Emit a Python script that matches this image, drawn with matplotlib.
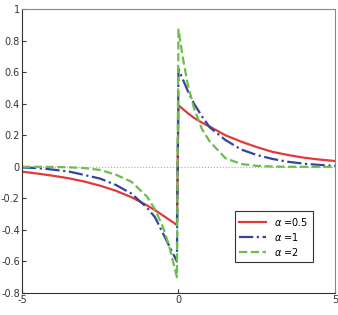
import numpy as np
import matplotlib.pyplot as plt

# ------------------------------------------------------------
# Values (left branch / right branch)
# ------------------------------------------------------------

x_left = [-5, -4.5, -4, -3.5, -3, -2.5, -2, -1.5, -1, -0.75, -0.5, -0.3, -0.15, -0.05]
x_right = [0, 0.15, 0.3, 0.5, 0.75, 1, 1.5, 2, 2.5, 3, 3.5, 4, 4.5, 5]

red_left = [-0.031, -0.043, -0.057, -0.073, -0.094, -0.12, -0.152, -0.193, -0.245,
            -0.275, -0.308, -0.335, -0.355, -0.37]
red_right = [0.39, 0.365, 0.34, 0.31, 0.28, 0.255, 0.2, 0.16, 0.125, 0.095, 0.075,
             0.058, 0.046, 0.037]

blue_left = [-0.004, -0.008, -0.018, -0.03, -0.052, -0.075, -0.115, -0.17, -0.26,
             -0.32, -0.42, -0.5, -0.56, -0.6]
blue_right = [0.62, 0.55, 0.48, 0.4, 0.32, 0.25, 0.17, 0.11, 0.075, 0.05, 0.032,
              0.02, 0.012, 0.006]

green_left = [0, 0, -0.001, -0.003, -0.008, -0.02, -0.05, -0.095, -0.19, -0.27,
              -0.38, -0.5, -0.62, -0.7]
green_right = [0.87, 0.68, 0.52, 0.37, 0.24, 0.16, 0.055, 0.018, 0.006, 0.002, 0,
               0, 0, 0]

labels = [r"$\alpha$ =0.5", r"$\alpha$ =1", r"$\alpha$ =2"]
ytick_labels = ["-0.8", "-0.6", "-0.4", "-0.2", "0", "0.2", "0.4", "0.6", "0.8", "1"]
xtick_labels = ["-5", "0", "5"]

# ------------------------------------------------------------
# Plot
# ------------------------------------------------------------

fig = plt.figure(figsize=(3.38, 3.15), dpi=100)
ax = fig.add_axes([0.065, 0.07, 0.926, 0.901])

x = x_left + x_right
ax.plot(x, red_left + red_right, color="#e03a3a", lw=1.6, ls="-", label=labels[0])
ax.plot(x, blue_left + blue_right, color="#33449c", lw=1.6, ls="-.", label=labels[1])
ax.plot(x, green_left + green_right, color="#6abf4b", lw=1.6, ls="--", label=labels[2])

ax.axhline(0, color="#aaaaaa", lw=0.8, ls=":", zorder=0)

ax.set_xlim(-5, 5)
ax.set_ylim(-0.8, 1)
ax.set_xticks([-5, 0, 5])
ax.set_yticks(np.linspace(-0.8, 1.0, 10))
ax.set_yticklabels(ytick_labels)
ax.set_xticklabels(xtick_labels)
ax.tick_params(direction="in", labelsize=7, colors="#333333", length=3, pad=1.5)

for s in ["left", "bottom"]:
    ax.spines[s].set_color("#333333")
for s in ["top", "right"]:
    ax.spines[s].set_color("#888888")

leg = ax.legend(loc="lower right", bbox_to_anchor=(0.93, 0.109), borderaxespad=0,
                fontsize=7, fancybox=False, framealpha=1, edgecolor="#333333",
                handlelength=2.8, borderpad=0.45, labelspacing=0.3)
leg.get_frame().set_linewidth(0.8)

fig.savefig("out.png", dpi=100)
